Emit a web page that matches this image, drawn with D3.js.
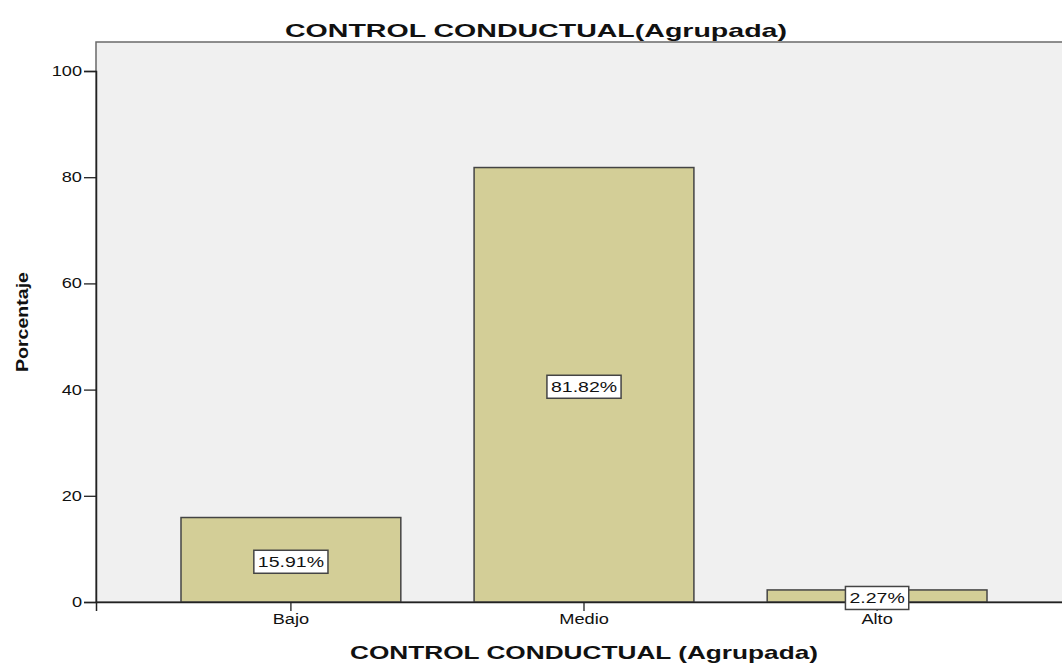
<!DOCTYPE html>
<html><head><meta charset="utf-8">
<script src="https://cdn.jsdelivr.net/npm/d3@7"></script>
<style>body{margin:0;background:#fff}svg{display:block}text{font-family:"Liberation Sans",Arial,sans-serif}</style>
</head><body><svg id="c" width="1062" height="664"></svg>
<script>
const categories = ["Bajo", "Medio", "Alto"];
const percentages = [15.91, 81.82, 2.27];
const yTicks = [0, 20, 40, 60, 80, 100];
const chartTitle = "CONTROL CONDUCTUAL(Agrupada)";
const xTitle = "CONTROL CONDUCTUAL (Agrupada)";
const yTitle = "Porcentaje";

const svg = d3.select("#c");
const L = 96, T = 42, R = 1072, B = 602;
const STRETCH = 1.3;
const y = d3.scaleLinear().domain([0, 100]).range([B, 71]);
const x = d3.scaleBand().domain(categories).range([L, R]).paddingInner(0.25).paddingOuter(0.29);

function stretch(sel, f) {
  sel.each(function() {
    const w = this.getComputedTextLength();
    d3.select(this).attr("textLength", w * f).attr("lengthAdjust", "spacingAndGlyphs");
  });
}

svg.append("rect").attr("x", L).attr("y", T).attr("width", R - L).attr("height", B - T)
  .attr("fill", "#f0f0f0").attr("stroke", "#6a6a6a").attr("stroke-width", 1.5);

svg.selectAll("rect.bar").data(percentages).join("rect").attr("class", "bar")
  .attr("x", (d, i) => x(categories[i])).attr("width", x.bandwidth())
  .attr("y", d => y(d)).attr("height", d => B - y(d))
  .attr("fill", "#d3ce97").attr("stroke", "#444").attr("stroke-width", 1.5);

const yAxis = svg.append("g").attr("transform", `translate(${L},0)`)
  .call(d3.axisLeft(y).tickValues(yTicks).tickSize(12).tickPadding(2));
yAxis.select(".domain").attr("stroke", "#222").attr("stroke-width", 1.5);
yAxis.selectAll(".tick line").attr("stroke", "#222").attr("stroke-width", 1.3);
yAxis.selectAll("text").attr("font-size", 14).attr("fill", "#111").attr("font-family", "Liberation Sans, Arial, sans-serif");
stretch(yAxis.selectAll("text"), STRETCH);

const xAxis = svg.append("g").attr("transform", `translate(0,${B})`)
  .call(d3.axisBottom(x).tickSize(9).tickPadding(3));
xAxis.select(".domain").attr("stroke", "#222").attr("stroke-width", 1.5);
xAxis.selectAll(".tick line").attr("stroke", "#222").attr("stroke-width", 1.3);
xAxis.selectAll("text").attr("font-size", 14).attr("fill", "#111").attr("font-family", "Liberation Sans, Arial, sans-serif");
stretch(xAxis.selectAll("text"), STRETCH);

// value labels
const lab = svg.selectAll("g.lab").data(percentages).join("g").attr("class", "lab")
  .attr("transform", (d, i) => `translate(${x(categories[i]) + x.bandwidth() / 2},${y(d / 2) + 2})`);
lab.each(function(d) {
  const g = d3.select(this);
  const t = g.append("text").attr("text-anchor", "middle").attr("dy", "0.36em")
    .attr("font-size", 15).attr("fill", "#111").text(d.toFixed(2) + "%");
  const w = t.node().getComputedTextLength() * STRETCH;
  t.attr("textLength", w).attr("lengthAdjust", "spacingAndGlyphs");
  g.insert("rect", "text").attr("x", -w / 2 - 4).attr("y", -11.5).attr("width", w + 8).attr("height", 23)
    .attr("fill", "#fff").attr("stroke", "#444").attr("stroke-width", 1.5);
});

svg.append("text").attr("x", 536).attr("y", 37).attr("text-anchor", "middle")
  .attr("font-size", 19).attr("font-weight", "bold").attr("fill", "#111")
  .attr("textLength", 502).attr("lengthAdjust", "spacingAndGlyphs").text(chartTitle);
svg.append("text").attr("x", 584).attr("y", 659).attr("text-anchor", "middle")
  .attr("font-size", 19).attr("font-weight", "bold").attr("fill", "#111")
  .attr("textLength", 468).attr("lengthAdjust", "spacingAndGlyphs").text(xTitle);
svg.append("text").attr("transform", "translate(28,322) rotate(-90)").attr("text-anchor", "middle")
  .attr("font-size", 17).attr("font-weight", "bold").attr("fill", "#111")
  .attr("textLength", 100).attr("lengthAdjust", "spacingAndGlyphs").text(yTitle);
</script></body></html>
